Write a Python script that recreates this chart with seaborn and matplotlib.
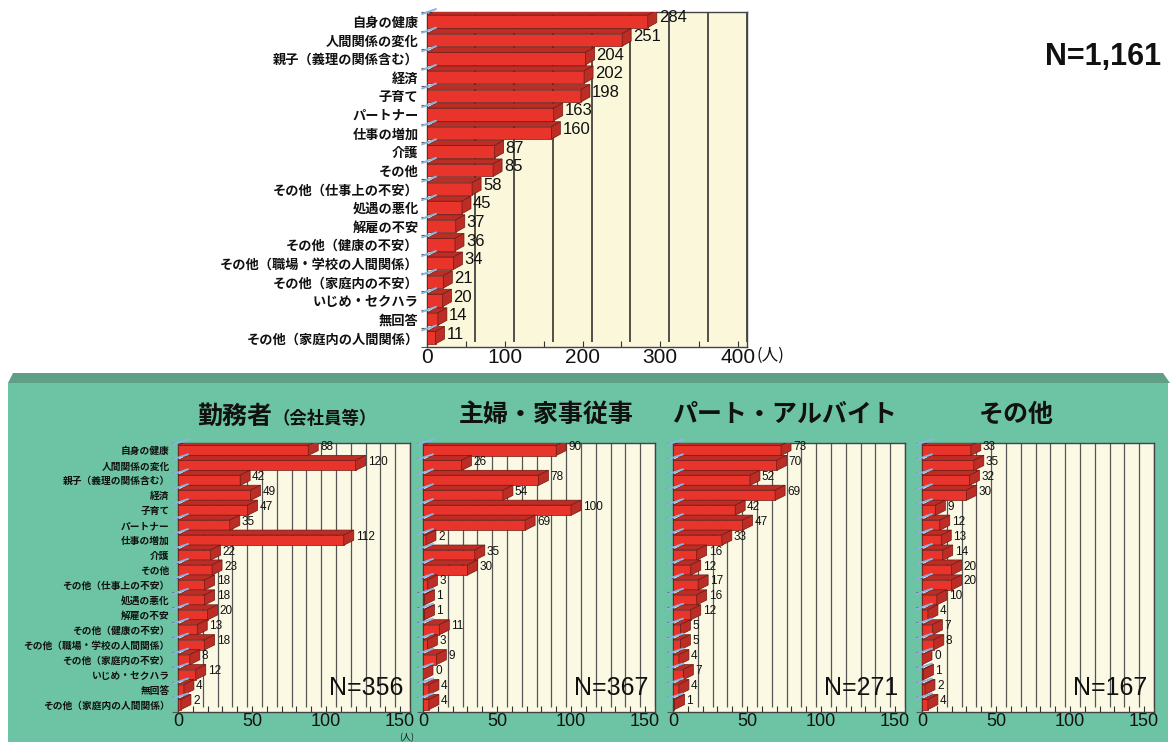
import numpy as np
import pandas as pd
import matplotlib
matplotlib.use("Agg")
import matplotlib.pyplot as plt
import seaborn as sns
from matplotlib.patches import Polygon, Rectangle
from matplotlib.lines import Line2D
from matplotlib.transforms import ScaledTranslation

# ---- data -------------------------------------------------------------
categories = [
    "自身の健康", "人間関係の変化", "親子（義理の関係含む）", "経済", "子育て",
    "パートナー", "仕事の増加", "介護", "その他", "その他（仕事上の不安）",
    "処遇の悪化", "解雇の不安", "その他（健康の不安）", "その他（職場・学校の人間関係）",
    "その他（家庭内の不安）", "いじめ・セクハラ", "無回答", "その他（家庭内の人間関係）",
]
total_counts = [284, 251, 204, 202, 198, 163, 160, 87, 85, 58, 45, 37, 36, 34, 21, 20, 14, 11]
worker_counts = [88, 120, 42, 49, 47, 35, 112, 22, 23, 18, 18, 20, 13, 18, 8, 12, 4, 2]
housewife_counts = [90, 26, 78, 54, 100, 69, 2, 35, 30, 3, 1, 1, 11, 3, 9, 0, 4, 4]
parttime_counts = [73, 70, 52, 69, 42, 47, 33, 16, 12, 17, 16, 12, 5, 5, 4, 7, 4, 1]
other_counts = [33, 35, 32, 30, 9, 12, 13, 14, 20, 20, 10, 4, 7, 8, 0, 1, 2, 4]

panel_titles = ["勤務者", "主婦・家事従事", "パート・アルバイト", "その他"]
worker_subtitle = "（会社員等）"
panel_n = ["N=356", "N=367", "N=271", "N=167"]
total_n = "N=1,161"
unit_label = "(人)"

# ---- style ------------------------------------------------------------
sns.set_theme(style="white")
plt.rcParams["font.family"] = ["Liberation Sans", "Noto Sans CJK JP", "DejaVu Sans"]
JP = ["Noto Sans CJK JP", "DejaVu Sans"]

RED = "#E8342B"
RED_DARK = "#BC2D26"
EDGE = "#6E1A15"
TICK_BLUE = "#8DB3E2"
GREEN = "#6CC4A4"
GREEN_BEVEL = "#5E9F86"
INK = "#111111"

W, H = 1173, 742
fig = plt.figure(figsize=(W / 100, H / 100), dpi=100)
fig.patch.set_facecolor("white")


def fx(x):
    return x / W


def fy(y):
    return 1 - y / H


def px_axes(left, top, right, bottom):
    return fig.add_axes([fx(left), fy(bottom), (right - left) / W, (bottom - top) / H])


# green backdrop behind the four breakdown panels
fig.add_artist(Rectangle((fx(8), 0), fx(1168) - fx(8), fy(383), transform=fig.transFigure,
                         facecolor=GREEN, edgecolor="none", zorder=-5))
fig.add_artist(Polygon([(fx(8), fy(383)), (fx(13), fy(373)), (fx(1163), fy(373)), (fx(1170), fy(383))],
                       closed=True, transform=fig.transFigure,
                       facecolor=GREEN_BEVEL, edgecolor="none", zorder=-4))


def bars3d(ax, values, front_max, front_px, major_step, grid_step, depth, bar_width,
           face, label_size, tick_size, show_labels, cat_size, grid_color, grid_lw):
    df = pd.DataFrame({"cat": categories, "val": values})
    sns.barplot(data=df, x="val", y="cat", orient="h", color=RED, saturation=1,
                width=bar_width, edgecolor=EDGE, linewidth=0.5, ax=ax, zorder=3)
    dx, dy = depth
    units_per_px = front_max / front_px
    xmax = front_max + dx * units_per_px
    n = len(categories)
    ax.set_xlim(0, xmax)
    ax.set_ylim(n - 0.5, -0.5)
    ax.set_facecolor(face)

    to_disp = ax.transData
    inv = to_disp.inverted()
    for p, v in zip(ax.patches, values):
        x0, y0, w, h = p.get_x(), p.get_y(), p.get_width(), p.get_height()
        (xa, ya), (xb, yb) = to_disp.transform([(x0, y0), (x0 + w, y0 + h)])
        yt, ybm = max(ya, yb), min(ya, yb)
        xl, xr = min(xa, xb), max(xa, xb)
        top = [(xl, yt), (xr, yt), (xr + dx, yt + dy), (xl + dx, yt + dy)]
        side = [(xr, ybm), (xr, yt), (xr + dx, yt + dy), (xr + dx, ybm + dy)]
        for pts in (top, side):
            ax.add_patch(Polygon(inv.transform(pts), closed=True, facecolor=RED_DARK,
                                 edgecolor=EDGE, linewidth=0.5, zorder=3))
        # slanted category tick on the left wall
        tick = inv.transform([(xl - 5, yt + 1), (xl + dx, yt + dy + 1)])
        ax.add_line(Line2D(tick[:, 0], tick[:, 1], color=TICK_BLUE, linewidth=1.4,
                           zorder=4, clip_on=False))
        ax.annotate(f"{v}", xy=(x0 + w, y0 + h / 2), xytext=((dx + 2) * 0.72, dy * 0.5),
                    textcoords="offset points", ha="left", va="center",
                    fontsize=label_size, color=INK, zorder=6)

    # back-wall gridlines, shifted by the bar depth
    shift = ScaledTranslation(dx / 100, dy / 100, fig.dpi_scale_trans)
    ax.vlines(np.arange(grid_step, front_max + 0.1, grid_step), n - 0.5, -0.5 - 1,
              colors=grid_color, linewidth=grid_lw, zorder=1,
              transform=ax.transData + shift)
    ax.set_xlim(0, xmax)
    ax.set_ylim(n - 0.5, -0.5)

    ax.set_xticks(np.arange(0, front_max + 0.1, major_step))
    ax.set_xticks(np.arange(0, front_max + 0.1, grid_step), minor=True)
    ax.set_yticks(np.arange(-0.5, n), minor=True)
    ax.tick_params(axis="x", which="both", bottom=True, direction="in", length=4,
                   width=0.8, color="#333333", labelsize=tick_size, pad=1,
                   labelcolor=INK)
    ax.tick_params(axis="y", which="major", left=False, length=0, pad=6)
    ax.tick_params(axis="y", which="minor", left=True, length=4, width=0.8, color="#555555")
    if show_labels:
        for t in ax.get_yticklabels():
            t.set_family(JP)
            t.set_fontsize(cat_size)
            t.set_fontweight("bold")
            t.set_color(INK)
    else:
        ax.tick_params(axis="y", labelleft=False)
    ax.set_xlabel("")
    ax.set_ylabel("")
    for s in ax.spines.values():
        s.set_color("#444444")
        s.set_linewidth(1)
    return ax


# ---- overall chart ----------------------------------------------------
ax_top = px_axes(427, 12, 747, 347)
bars3d(ax_top, total_counts, 400, 311, 100, 50, (9, 5), 0.67, "#FAF7DA",
       12, 15, True, 9.5, "#333333", 1.2)
fig.text(fx(757), fy(355), unit_label, fontsize=12, ha="left", va="center", color=INK,
         family=JP)
fig.text(fx(1103), fy(57), total_n, fontsize=22, fontweight="bold", ha="center",
         va="center", color=INK)

# ---- breakdown panels -------------------------------------------------
panel_values = [worker_counts, housewife_counts, parttime_counts, other_counts]
panel_lefts = [178, 423, 673, 922]
title_x = [285, 546, 785, 1016]
for i, (vals, left) in enumerate(zip(panel_values, panel_lefts)):
    ax = px_axes(left, 443, left + 232, 712)
    bars3d(ax, vals, 150, 222, 50, 10, (10, 5), 0.68, "#FBF9E4",
           8.5, 13, i == 0, 7, "#555555", 0.9)
    ax.text(0.97, 0.09, panel_n[i], transform=ax.transAxes, ha="right", va="center",
            fontsize=18, color=INK, zorder=7)
    if i == 0:
        fig.text(fx(272), fy(424), panel_titles[i], fontsize=18, fontweight="bold",
                 ha="right", va="baseline", color=INK, family=JP)
        fig.text(fx(272), fy(424), worker_subtitle, fontsize=12.5, fontweight="bold",
                 ha="left", va="baseline", color=INK, family=JP)
    else:
        fig.text(fx(title_x[i]), fy(415), panel_titles[i], fontsize=18, fontweight="bold",
                 ha="center", va="center", color=INK, family=JP)

fig.text(fx(407), fy(742), unit_label, fontsize=6.5, ha="center", va="bottom", color=INK,
         family=JP)

fig.savefig("out.png", dpi=100, facecolor=fig.get_facecolor())
